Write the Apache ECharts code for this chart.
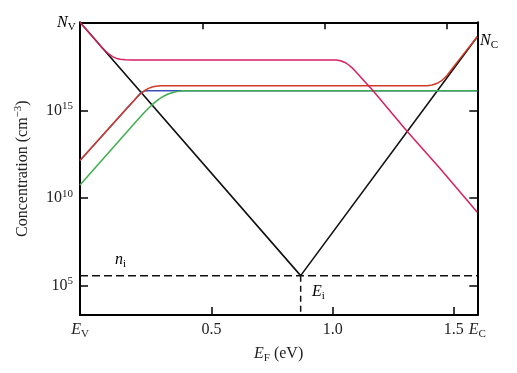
<!DOCTYPE html>
<html><head><meta charset="utf-8">
<script src="https://cdn.jsdelivr.net/npm/echarts@6/dist/echarts.min.js"></script>
<style>html,body{margin:0;padding:0;background:#fff}#c{width:517px;height:373px}</style>
</head><body><div id="c"></div>
<script>
// ---- axes (energy in eV, concentration as log10 of cm^-3) ----
const xDataMin = 0, xDataMax = 1.624;          // E_V .. E_C (top axis scale, data)
const xBotMin = -0.0434, xBotMax = 1.5975;     // bottom labelled axis as drawn
const xTickValues = [0.5, 1.0, 1.5];
const yMin = 3.334, yMax = 20.03;
const yTickExponents = [5, 10, 15];

// ---- intrinsic level ----
const niLog = 5.58;
const EiX = 0.902;

// ---- black V ----
const blackX = [0, 0.902, 1.624];
const blackLog = [20.03, 5.58, 19.21];

// ---- magenta ----
const magentaX = [0, 0.06, 0.09, 0.105, 0.12, 0.135, 0.15, 0.165, 0.185, 0.21, 1.049, 1.065, 1.083, 1.10, 1.117, 1.135, 1.158, 1.192, 1.335, 1.471, 1.624];
const magentaLog = [20.03, 19.07, 18.58, 18.38, 18.20, 18.06, 17.97, 17.92, 17.89, 17.88, 17.88, 17.84, 17.74, 17.58, 17.37, 17.10, 16.74, 16.22, 13.85, 11.70, 9.19];

// ---- blue ----
const blueX = [0, 0.19, 0.205, 0.22, 0.235, 0.245, 0.255, 0.265, 0.28, 1.624];
const blueLog = [12.14, 15.10, 15.33, 15.56, 15.80, 15.96, 16.06, 16.11, 16.13, 16.13];

// ---- green ----
const greenX = [0, 0.232, 0.26, 0.28, 0.30, 0.32, 0.34, 0.36, 0.38, 0.40, 0.42, 0.44, 1.624];
const greenLog = [10.75, 14.42, 14.84, 15.13, 15.39, 15.62, 15.80, 15.94, 16.03, 16.09, 16.12, 16.13, 16.13];

// ---- red ----
const redX = [0, 0.19, 0.205, 0.22, 0.235, 0.25, 0.265, 0.28, 0.295, 0.31, 0.33, 1.42, 1.44, 1.46, 1.48, 1.50, 1.525, 1.55, 1.624];
const redLog = [12.14, 15.10, 15.33, 15.56, 15.78, 15.98, 16.14, 16.26, 16.34, 16.38, 16.41, 16.41, 16.45, 16.55, 16.72, 17.00, 17.45, 17.90, 19.21];

const FONT = '"Liberation Serif", "DejaVu Serif", serif';
const TXT = '#222';
const pairs = (xs, ys) => xs.map((x, i) => [x, ys[i]]);

const chart = echarts.init(document.getElementById('c'), null, {renderer: 'canvas'});

const subRich = {
  i: {fontFamily: FONT, fontSize: 16, fontStyle: 'italic', color: TXT, lineHeight: 20},
  s: {fontFamily: FONT, fontSize: 11, color: TXT, verticalAlign: 'bottom', lineHeight: 11},
  n: {fontFamily: FONT, fontSize: 16, color: TXT, lineHeight: 20}
};
const supRich = {
  n: {fontFamily: FONT, fontSize: 16, color: TXT, lineHeight: 20},
  p: {fontFamily: FONT, fontSize: 11, color: TXT, verticalAlign: 'top', lineHeight: 11}
};

function lineSeries(name, xs, ys, color, z) {
  return {
    name, type: 'line', xAxisIndex: 1, yAxisIndex: 0,
    data: pairs(xs, ys), showSymbol: false, symbol: 'none',
    smooth: false,
    lineStyle: {color, width: 1.5, join: 'round'}, z
  };
}

const axisLineStyle = {color: '#000', width: 2};
const tickStyle = {color: '#000', width: 1.5};

chart.setOption({
  animation: false,
  backgroundColor: '#fff',
  grid: {left: 80, right: 39.7, top: 22.3, bottom: 58, containLabel: false},
  xAxis: [
    {
      type: 'value', position: 'bottom', min: xBotMin, max: xBotMax,
      axisLine: {show: true, onZero: false, lineStyle: axisLineStyle},
      axisTick: {show: true, inside: true, length: 8, customValues: xTickValues, lineStyle: tickStyle},
      axisLabel: {
        customValues: [xBotMin].concat(xTickValues, [xBotMax]),
        margin: 5, fontFamily: FONT, fontSize: 16, color: TXT,
        formatter: v => Math.abs(v - xBotMin) < 1e-6 ? '{i|E}{s|V}' : (Math.abs(v - xBotMax) < 1e-6 ? '{i|E}{s|C}' : '{n|' + v.toFixed(1) + '}'),
        rich: subRich
      },
      splitLine: {show: false},
      name: '{i|E}{s|F}{n| (eV)}', nameLocation: 'middle', nameGap: 29,
      nameTextStyle: {rich: subRich}
    },
    {
      type: 'value', position: 'top', min: xDataMin, max: xDataMax,
      axisLine: {show: true, onZero: false, lineStyle: axisLineStyle},
      axisTick: {show: true, inside: true, length: 7, customValues: xTickValues, lineStyle: tickStyle},
      axisLabel: {show: false},
      splitLine: {show: false}
    }
  ],
  yAxis: [
    {
      type: 'value', position: 'left', min: yMin, max: yMax,
      axisLine: {show: true, onZero: false, lineStyle: axisLineStyle},
      axisTick: {show: true, inside: true, length: 8, customValues: yTickExponents, lineStyle: tickStyle},
      axisLabel: {
        customValues: yTickExponents, margin: 7,
        formatter: v => '{n|10}{p|' + v + '}',
        rich: supRich
      },
      splitLine: {show: false},
      name: '{n|Concentration (cm}{p|−3}{n|)}', nameLocation: 'middle', nameGap: 47, nameRotate: 90,
      nameTextStyle: {rich: supRich}
    },
    {
      type: 'value', position: 'right', min: yMin, max: yMax,
      axisLine: {show: true, onZero: false, lineStyle: axisLineStyle},
      axisTick: {show: true, inside: true, length: 8, customValues: yTickExponents, lineStyle: tickStyle},
      axisLabel: {show: false},
      splitLine: {show: false}
    }
  ],
  graphic: [
    {type: 'text', left: 57, top: 15, style: {text: '{i|N}{s|V}', rich: subRich}},
    {type: 'text', left: 480, top: 33, style: {text: '{i|N}{s|C}', rich: subRich}},
    {type: 'text', left: 115, top: 252, style: {text: '{i|n}{s|i}', rich: subRich}},
    {type: 'text', left: 312, top: 284, style: {text: '{i|E}{s|i}', rich: subRich}}
  ],
  series: [
    {
      name: 'ni', type: 'line', xAxisIndex: 1, yAxisIndex: 0,
      data: [[xDataMin, niLog], [xDataMax, niLog]], showSymbol: false, symbol: 'none',
      lineStyle: {color: '#111', width: 1.5, type: [8, 4]}, z: 2
    },
    {
      name: 'Ei', type: 'line', xAxisIndex: 1, yAxisIndex: 0,
      data: [[EiX, niLog], [EiX, yMin]], showSymbol: false, symbol: 'none',
      lineStyle: {color: '#111', width: 1.5, type: [6, 4]}, z: 2
    },
    {
      name: 'black', type: 'line', xAxisIndex: 1, yAxisIndex: 0,
      data: pairs(blackX, blackLog), showSymbol: false, symbol: 'none',
      lineStyle: {color: '#111', width: 1.6}, z: 3
    },
    lineSeries('blue', blueX, blueLog, '#3a4fb8', 4),
    lineSeries('green', greenX, greenLog, '#3fae4c', 5),
    lineSeries('red', redX, redLog, '#d23a26', 6),
    lineSeries('magenta', magentaX, magentaLog, '#d81f62', 7)
  ]
});
</script></body></html>
